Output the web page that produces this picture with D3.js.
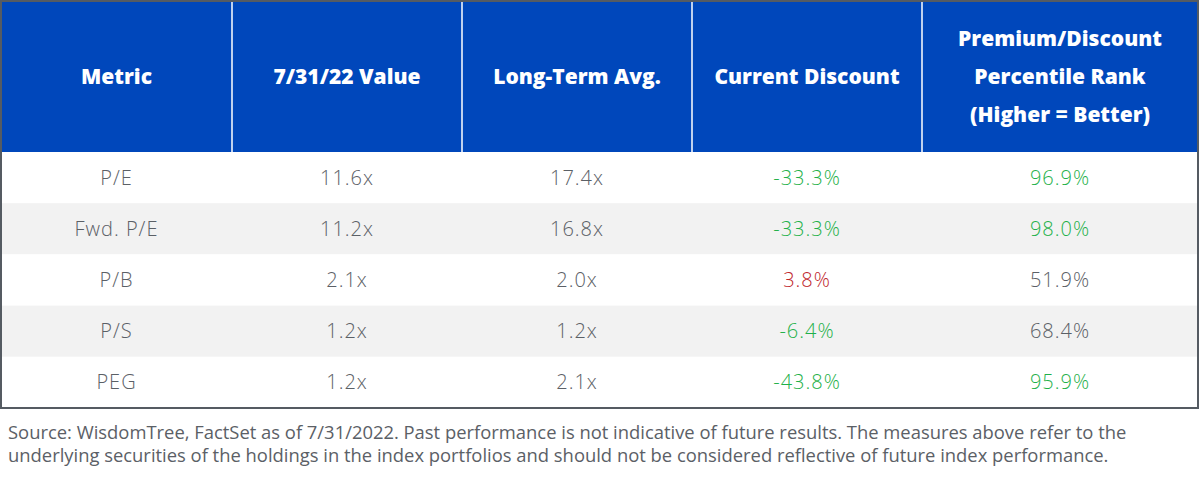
<!DOCTYPE html>
<html>
<head>
<meta charset="utf-8">
<script src="https://cdn.jsdelivr.net/npm/d3@7"></script>
<style>
  body { margin: 0; background: #fff; }
  svg { display: block; }
</style>
</head>
<body>
<svg width="1200" height="477"></svg>
<script>
// table data
const headers = [
  ['Metric'],
  ['7/31/22 Value'],
  ['Long-Term Avg.'],
  ['Current Discount'],
  ['Premium/Discount', 'Percentile Rank', '(Higher = Better)']
];
const metrics = ['P/E', 'Fwd. P/E', 'P/B', 'P/S', 'PEG'];
const currentValues = [11.6, 11.2, 2.1, 1.2, 1.2];
const longTermAvg = [17.4, 16.8, 2.0, 1.2, 2.1];
const currentDiscount = [-33.3, -33.3, 3.8, -6.4, -43.8];
const percentileRank = [96.9, 98.0, 51.9, 68.4, 95.9];
const footnote = [
  'Source: WisdomTree, FactSet as of 7/31/2022. Past performance is not indicative of future results. The measures above refer to the',
  'underlying securities of the holdings in the index portfolios and should not be considered reflective of future index performance.'
];

const svg = d3.select('svg');
const colEdges = [1, 232, 462, 692, 922, 1198];
const tableTop = 1, headerBottom = 152, tableBottom = 408;

const blue = '#0047bb', green = '#1fb14a', red = '#c0272d', grey = '#5b6066';

const rows = metrics.map((m, i) => ({
  metric: m,
  cells: [
    {text: m, color: grey},
    {text: currentValues[i].toFixed(1) + 'x', color: grey},
    {text: longTermAvg[i].toFixed(1) + 'x', color: grey},
    {text: currentDiscount[i].toFixed(1) + '%', color: currentDiscount[i] < 0 ? green : red},
    {text: percentileRank[i].toFixed(1) + '%', color: percentileRank[i] >= 90 ? green : grey}
  ]
}));

const yScale = d3.scaleBand()
  .domain(metrics)
  .range([headerBottom, tableBottom]);

const colMid = i => (colEdges[i] + colEdges[i + 1]) / 2;

// header
svg.append('rect')
  .attr('x', colEdges[0]).attr('y', tableTop)
  .attr('width', colEdges[5] - colEdges[0])
  .attr('height', headerBottom - tableTop)
  .attr('fill', blue);

svg.selectAll('.divider')
  .data(colEdges.slice(1, 5)).enter().append('line')
  .attr('class', 'divider')
  .attr('x1', d => d).attr('x2', d => d)
  .attr('y1', tableTop).attr('y2', headerBottom)
  .attr('stroke', '#fff').attr('stroke-width', 1.5);

const headG = svg.selectAll('.head')
  .data(headers).enter().append('text')
  .attr('class', 'head')
  .attr('text-anchor', 'middle')
  .attr('font-family', '"Open Sans", sans-serif')
  .attr('font-weight', 800)
  .attr('font-size', 21)
  .attr('fill', '#fff');

headG.selectAll('tspan')
  .data((d, i) => d.map((line, j) => ({line, j, n: d.length, col: i})))
  .enter().append('tspan')
  .attr('x', d => colMid(d.col))
  .attr('y', d => (tableTop + headerBottom) / 2 + (d.j - (d.n - 1) / 2) * 38)
  .attr('dy', '0.35em')
  .text(d => d.line);

// body rows
const rowG = svg.selectAll('.row')
  .data(rows).enter().append('g')
  .attr('class', 'row')
  .attr('transform', d => `translate(0,${yScale(d.metric)})`);

rowG.append('rect')
  .attr('x', colEdges[0])
  .attr('width', colEdges[5] - colEdges[0])
  .attr('height', yScale.bandwidth())
  .attr('fill', (d, i) => i % 2 ? '#f2f2f2' : '#fff');

rowG.selectAll('text')
  .data(d => d.cells).enter().append('text')
  .attr('x', (d, i) => colMid(i))
  .attr('y', yScale.bandwidth() / 2)
  .attr('dy', '0.35em')
  .attr('text-anchor', 'middle')
  .attr('font-family', '"Open Sans", sans-serif')
  .attr('font-weight', 300)
  .attr('font-size', 20)
  .attr('letter-spacing', 1)
  .attr('fill', d => d.color)
  .text(d => d.text);

// outer border
svg.append('rect')
  .attr('x', colEdges[0]).attr('y', tableTop)
  .attr('width', colEdges[5] - colEdges[0])
  .attr('height', tableBottom - tableTop)
  .attr('fill', 'none')
  .attr('stroke', '#555b62').attr('stroke-width', 2);

// footnote
svg.selectAll('.foot')
  .data(footnote).enter().append('text')
  .attr('class', 'foot')
  .attr('x', 8)
  .attr('y', (d, i) => 433 + i * 23)
  .attr('dy', '0.35em')
  .attr('font-family', '"Open Sans", sans-serif')
  .attr('font-size', 18.4)
  .attr('fill', '#5b6066')
  .text(d => d);
</script>
</body>
</html>
